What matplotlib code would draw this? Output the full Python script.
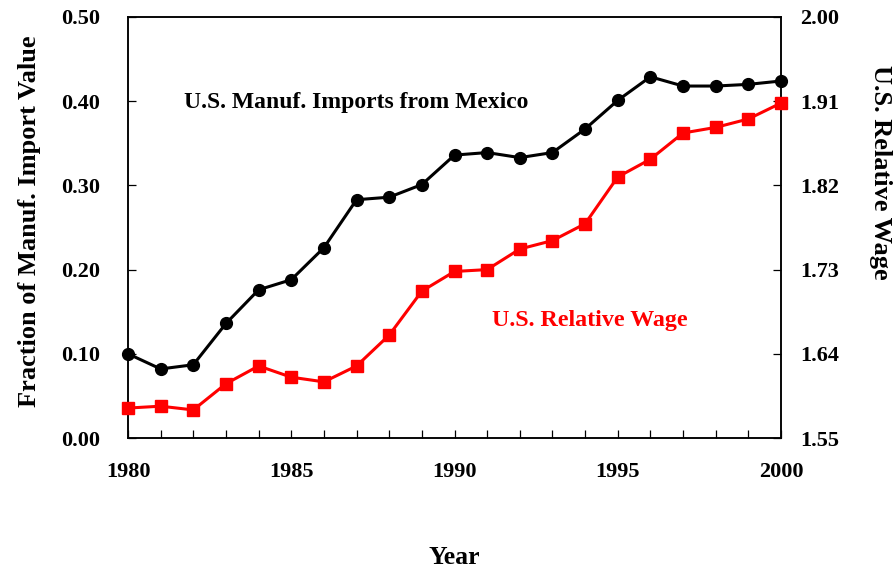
import matplotlib
matplotlib.use("Agg")
import matplotlib.pyplot as plt
from matplotlib.ticker import MultipleLocator

years = list(range(1980, 2001))
imports_share = [0.100, 0.082, 0.087, 0.136, 0.176, 0.188, 0.226, 0.283, 0.286, 0.301,
                 0.336, 0.339, 0.333, 0.339, 0.367, 0.401, 0.429, 0.418, 0.418, 0.420, 0.424]
rel_wage = [1.582, 1.584, 1.580, 1.608, 1.627, 1.615, 1.610, 1.627, 1.660, 1.707,
            1.728, 1.730, 1.752, 1.761, 1.779, 1.829, 1.848, 1.876, 1.882, 1.891, 1.908]
left_ticks = [0.0, 0.1, 0.2, 0.3, 0.4, 0.5]
left_labels = ["0.00", "0.10", "0.20", "0.30", "0.40", "0.50"]
right_ticks = [1.55, 1.64, 1.73, 1.82, 1.91, 2.00]
right_labels = ["1.55", "1.64", "1.73", "1.82", "1.91", "2.00"]
x_ticks = [1980, 1985, 1990, 1995, 2000]

plt.rcParams['font.family'] = ['Liberation Serif', 'DejaVu Serif']
plt.rcParams['font.weight'] = 'bold'

fig = plt.figure(figsize=(8.96, 5.72), dpi=100)
ax = fig.add_axes([128/896, 1-438/572, (781-128)/896, (438-17)/572])
ax2 = ax.twinx()

ax.plot(years, imports_share, color='black', lw=2.2, marker='o', markersize=8.5, zorder=3,
        clip_on=False)
ax2.plot(years, rel_wage, color='#ff0000', lw=2.2, marker='s', markersize=8.5, zorder=3,
         clip_on=False)

ax.set_xlim(1980, 2000)
ax.set_ylim(0, 0.5)
ax2.set_ylim(1.55, 2.00)

ax.set_xticks(x_ticks)
ax.set_xticklabels([str(x) for x in x_ticks])
ax.xaxis.set_minor_locator(MultipleLocator(1))
ax.set_yticks(left_ticks)
ax.set_yticklabels(left_labels)
ax2.set_yticks(right_ticks)
ax2.set_yticklabels(right_labels)

for a in (ax, ax2):
    for s in a.spines.values():
        s.set_linewidth(1.1)
ax.tick_params(axis='x', which='both', direction='in', length=6, width=0.9, labelsize=16, pad=17)
ax.tick_params(axis='y', which='both', direction='in', length=6, width=0.9, labelsize=16, pad=20)
ax2.tick_params(axis='y', which='both', direction='in', length=6, width=0.9, labelsize=16, pad=14)

ax.set_xlabel("Year", fontsize=18.5, fontweight='bold', va='center', ha='center')
ax.xaxis.set_label_coords(0.5, (438-557)/421)
ax.set_ylabel("Fraction of Manuf. Import Value", fontsize=19, fontweight='bold',
              va='center', ha='center')
ax.yaxis.set_label_coords((30-128)/653, (438-221)/421)
ax2.set_ylabel("U.S. Relative Wage", fontsize=19, fontweight='bold', rotation=-90,
               va='center', ha='center')
ax2.yaxis.set_label_coords((880-128)/653, (438-172)/421)

ax.text(1981.7, 0.398, "U.S. Manuf. Imports from Mexico", fontsize=17, fontweight='bold',
        color='black', va='center', ha='left')
ax.text(1994.15, 0.140, "U.S. Relative Wage", fontsize=17.3, fontweight='bold',
        color='#ff0000', va='center', ha='center')

fig.savefig("out.png", dpi=100)
